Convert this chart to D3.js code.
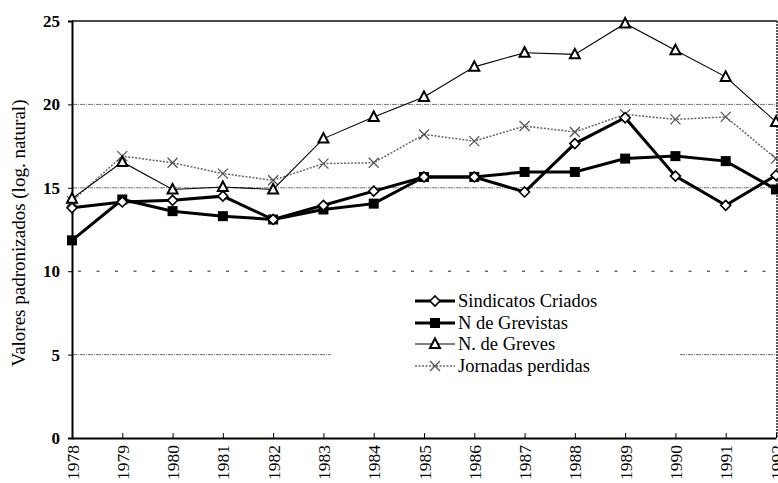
<!DOCTYPE html>
<html>
<head>
<meta charset="utf-8">
<script src="https://cdn.jsdelivr.net/npm/d3@7"></script>
<style>
  body { margin: 0; background: #fff; }
</style>
</head>
<body>
<svg width="778" height="483"></svg>
<script>
var years = [1978, 1979, 1980, 1981, 1982, 1983, 1984, 1985, 1986, 1987, 1988, 1989, 1990, 1991, 1992];
var sindicatos = [13.8, 14.15, 14.25, 14.5, 13.1, 13.95, 14.8, 15.65, 15.65, 14.75, 17.65, 19.2, 15.7, 13.95, 15.75];
var grevistas = [11.85, 14.3, 13.6, 13.3, 13.1, 13.7, 14.05, 15.65, 15.65, 15.95, 15.95, 16.75, 16.9, 16.6, 14.9];
var greves = [14.35, 16.55, 14.9, 15.05, 14.9, 17.95, 19.25, 20.45, 22.25, 23.1, 23.0, 24.85, 23.25, 21.65, 18.95];
var jornadas = [14.2, 16.9, 16.5, 15.85, 15.45, 16.45, 16.5, 18.2, 17.8, 18.7, 18.35, 19.4, 19.1, 19.25, 16.75];
var yTicks = [0, 5, 10, 15, 20, 25];
var seriesNames = ["Sindicatos Criados", "N de Grevistas", "N. de Greves", "Jornadas perdidas"];

var serif = "'Liberation Serif', 'DejaVu Serif', serif";
var svg = d3.select("svg");

var x = d3.scaleLinear().domain([1978, 1992]).range([72, 776]);
var y = d3.scaleLinear().domain([0, 25]).range([438, 21]);

// gridlines
svg.selectAll(".grid")
    .data([5, 15, 20])
  .enter().append("line")
    .attr("x1", x(1978)).attr("x2", 777)
    .attr("y1", y).attr("y2", y)
    .attr("stroke", "#777")
    .attr("stroke-width", 1)
    .attr("stroke-dasharray", "5,1,1,1");

svg.append("line")
    .attr("x1", x(1978) + 6).attr("x2", 777)
    .attr("y1", y(10)).attr("y2", y(10))
    .attr("stroke", "#222")
    .attr("stroke-width", 1)
    .attr("stroke-dasharray", "3,15.5");

// top and right frame
svg.append("line")
    .attr("x1", x(1978)).attr("x2", 777)
    .attr("y1", y(25)).attr("y2", y(25))
    .attr("stroke", "#111").attr("stroke-width", 1.6);
svg.append("line")
    .attr("x1", 777).attr("x2", 777)
    .attr("y1", y(25)).attr("y2", y(0))
    .attr("stroke", "#222").attr("stroke-width", 1.5)
    .attr("stroke-dasharray", "2,1");

// legend background hides the 5 gridline
svg.append("rect")
    .attr("x", 331).attr("y", 284)
    .attr("width", 348).attr("height", 100)
    .attr("fill", "#fff");

// axes
var yAxis = svg.append("g")
    .attr("transform", "translate(" + x(1978) + ",0)")
    .call(d3.axisLeft(y).tickValues(yTicks).tickSize(4).tickPadding(8));
yAxis.select(".domain").attr("stroke-width", 2);
yAxis.selectAll("text")
    .style("font-family", serif)
    .style("font-size", "17px")
    .style("font-weight", "bold");

var xAxis = svg.append("g")
    .attr("transform", "translate(0," + y(0) + ")")
    .call(d3.axisBottom(x).tickValues(years).tickFormat(d3.format("d")).tickSizeInner(-5).tickSizeOuter(0));
xAxis.select(".domain").attr("stroke-width", 2);
xAxis.selectAll("text")
    .style("font-family", serif)
    .style("font-size", "17.5px")
    .attr("transform", "rotate(-90)")
    .attr("text-anchor", "end")
    .attr("x", -7)
    .attr("y", 0)
    .attr("dy", "0.35em");

svg.append("text")
    .attr("transform", "translate(25,233) rotate(-90)")
    .attr("text-anchor", "middle")
    .style("font-family", serif)
    .style("font-size", "19px")
    .text("Valores padronizados (log. natural)");

// markers
function diamond(g, cx, cy) {
  g.append("path")
      .attr("d", "M" + cx + "," + (cy - 5) + "L" + (cx + 5) + "," + cy + "L" + cx + "," + (cy + 5) + "L" + (cx - 5) + "," + cy + "Z")
      .attr("fill", "#fff").attr("stroke", "#000").attr("stroke-width", 1.6);
}
function square(g, cx, cy) {
  g.append("rect")
      .attr("x", cx - 5).attr("y", cy - 5).attr("width", 10).attr("height", 10)
      .attr("fill", "#000");
}
function triangle(g, cx, cy) {
  g.append("path")
      .attr("d", "M" + cx + "," + (cy - 5.5) + "L" + (cx + 5) + "," + (cy + 4) + "L" + (cx - 5) + "," + (cy + 4) + "Z")
      .attr("fill", "#fff").attr("stroke", "#000").attr("stroke-width", 2);
}
function cross(g, cx, cy) {
  g.append("path")
      .attr("d", "M" + (cx - 5) + "," + (cy - 5) + "L" + (cx + 5) + "," + (cy + 5) + "M" + (cx + 5) + "," + (cy - 5) + "L" + (cx - 5) + "," + (cy + 5))
      .attr("stroke", "#555").attr("stroke-width", 1.3);
}

var series = [
  {name: seriesNames[3], values: jornadas, stroke: "#666", width: 1.5, dash: "2,1.5", marker: cross},
  {name: seriesNames[2], values: greves, stroke: "#000", width: 1.1, dash: null, marker: triangle},
  {name: seriesNames[1], values: grevistas, stroke: "#000", width: 3, dash: null, marker: square},
  {name: seriesNames[0], values: sindicatos, stroke: "#000", width: 3, dash: null, marker: diamond}
];

var line = d3.line()
    .x(function(d, i) { return x(years[i]); })
    .y(function(d) { return y(d); });

series.forEach(function(s) {
  var g = svg.append("g");
  g.append("path")
      .datum(s.values)
      .attr("d", line)
      .attr("fill", "none")
      .attr("stroke", s.stroke)
      .attr("stroke-width", s.width)
      .attr("stroke-dasharray", s.dash);
  s.values.forEach(function(v, i) { s.marker(g, x(years[i]), y(v)); });
});

// legend
var legendY = [301, 323, 344, 366];
var legendOrder = [3, 2, 1, 0];
legendOrder.forEach(function(si, k) {
  var s = series[si];
  var g = svg.append("g");
  var ly = legendY[k];
  g.append("line")
      .attr("x1", 415).attr("x2", 455)
      .attr("y1", ly).attr("y2", ly)
      .attr("stroke", s.stroke)
      .attr("stroke-width", s.width)
      .attr("stroke-dasharray", s.dash);
  s.marker(g, 435, ly);
  g.append("text")
      .attr("x", 458).attr("y", ly)
      .attr("dy", "0.35em")
      .style("font-family", serif)
      .style("font-size", "18.5px")
      .text(s.name);
});
</script>
</body>
</html>
